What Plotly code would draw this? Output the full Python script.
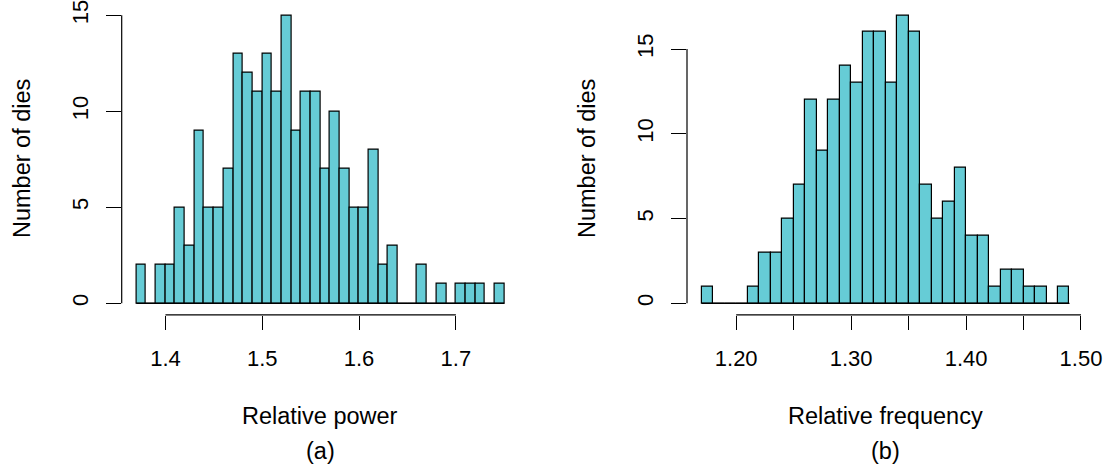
import numpy as np
import plotly.graph_objects as go

# ---------------- data ----------------
# Panel (a): Relative power, bins of width 0.01 starting at 1.37
power_bin_start = 1.37
power_bin_width = 0.01
power_counts = [2, 0, 2, 2, 5, 3, 9, 5, 5, 7, 13, 12, 11, 13, 11, 15, 9, 11, 11,
                7, 10, 7, 5, 5, 8, 2, 3, 0, 0, 2, 0, 1, 0, 1, 1, 1, 0, 1]
power_ticks = [1.4, 1.5, 1.6, 1.7]
power_tick_labels = ["1.4", "1.5", "1.6", "1.7"]

# Panel (b): Relative frequency, bins of width 0.01 starting at 1.17
freq_bin_start = 1.17
freq_bin_width = 0.01
freq_counts = [1, 0, 0, 0, 1, 3, 3, 5, 7, 12, 9, 12, 14, 13, 16, 16, 13, 17, 16,
               7, 5, 6, 8, 4, 4, 1, 2, 2, 1, 1, 0, 1]
freq_ticks = [1.20, 1.25, 1.30, 1.35, 1.40, 1.45, 1.50]
freq_tick_labels = ["1.20", "", "1.30", "", "1.40", "", "1.50"]

count_ticks_a = [0, 5, 10, 15]
count_ticks_b = [0, 5, 10, 15]

xlabel_a = "Relative power"
xlabel_b = "Relative frequency"
ylabel = "Number of dies"
panel_a = "(a)"
panel_b = "(b)"

# ---------------- styling ----------------
W, H = 1115, 467
BAR_FILL = "#66CCD6"
FONT = "Liberation Sans, Arial, Helvetica, sans-serif"
TICK_SIZE = 22
TITLE_SIZE = 23.5


def px_x(p):
    return p / W


def px_y(p):
    return 1 - p / H


fig = go.Figure()


def add_hist(start, width, counts, xa, ya):
    n = len(counts)
    lefts = np.round(start + width * np.arange(n), 6)
    centers = lefts + width / 2
    fig.add_trace(go.Bar(
        x=centers, y=counts, width=width,
        marker=dict(color=BAR_FILL, line=dict(color="black", width=1.2)),
        xaxis=xa, yaxis=ya, showlegend=False, hoverinfo="x+y",
    ))
    # zero-height bins appear as a baseline in the original
    fig.add_trace(go.Scatter(
        x=[lefts[0], lefts[-1] + width], y=[0, 0], mode="lines",
        line=dict(color="black", width=1.2),
        xaxis=xa, yaxis=ya, showlegend=False, hoverinfo="skip",
    ))
    return lefts[0], lefts[-1] + width


a_lo, a_hi = add_hist(power_bin_start, power_bin_width, power_counts, "x", "y")
b_lo, b_hi = add_hist(freq_bin_start, freq_bin_width, freq_counts, "x2", "y2")

pad_a = 0.04 * (a_hi - a_lo)
pad_b = 0.04 * (b_hi - b_lo)
ymax_a = max(power_counts)
ymax_b = max(freq_counts)

y_dom = [px_y(314.8), px_y(3.7)]

common_x = dict(
    showgrid=False, zeroline=False, showline=False,
    ticks="outside", ticklen=14, tickwidth=1, tickcolor="black",
    tickfont=dict(family=FONT, size=TICK_SIZE, color="black"),
    ticklabelstandoff=10, ticklabeloverflow="allow",
)
common_y = dict(
    showgrid=False, zeroline=False, showline=False,
    ticks="outside", ticklen=15, tickwidth=1, tickcolor="black",
    tickangle=-90,
    tickfont=dict(family=FONT, size=TICK_SIZE, color="black"),
    ticklabelstandoff=9, ticklabeloverflow="allow",
)

fig.update_layout(
    width=W, height=H,
    margin=dict(l=0, r=0, t=0, b=0, autoexpand=False),
    paper_bgcolor="white", plot_bgcolor="white",
    bargap=0,
    font=dict(family=FONT, color="black"),
    xaxis=dict(domain=[px_x(121.7), px_x(519)],
               range=[a_lo - pad_a, a_hi + pad_a],
               tickvals=power_ticks, ticktext=power_tick_labels,
               anchor="y", **common_x),
    yaxis=dict(domain=y_dom, range=[-0.04 * ymax_a, 1.04 * ymax_a],
               tickvals=count_ticks_a, anchor="x", **common_y),
    xaxis2=dict(domain=[px_x(687), px_x(1084.2)],
                range=[b_lo - pad_b, b_hi + pad_b],
                tickvals=freq_ticks, ticktext=freq_tick_labels,
                anchor="y2", **common_x),
    yaxis2=dict(domain=y_dom, range=[-0.04 * ymax_b, 1.04 * ymax_b],
                tickvals=count_ticks_b, anchor="x2", **common_y),
)

# R-style axis lines spanning from first to last tick
shapes = []
for xr, yr, ticks_x, ticks_y in [("x", "y", power_ticks, count_ticks_a),
                                 ("x2", "y2", freq_ticks, count_ticks_b)]:
    shapes.append(dict(type="line", xref=xr, yref=f"{yr} domain",
                       x0=ticks_x[0], x1=ticks_x[-1], y0=0, y1=0,
                       line=dict(color="black", width=1.2)))
    shapes.append(dict(type="line", xref=f"{xr} domain", yref=yr,
                       x0=0, x1=0, y0=ticks_y[0], y1=ticks_y[-1],
                       line=dict(color="black", width=1.2)))
fig.update_layout(shapes=shapes)

# axis titles and panel labels
ann = []
for cx, xl, pl, ycx in [((121.7 + 519) / 2, xlabel_a, panel_a, 22),
                        ((687 + 1084.2) / 2, xlabel_b, panel_b, 587)]:
    ann.append(dict(text=xl, x=px_x(cx), y=px_y(416), xref="paper", yref="paper",
                    xanchor="center", yanchor="middle", showarrow=False,
                    font=dict(family=FONT, size=TITLE_SIZE, color="black")))
    ann.append(dict(text=pl, x=px_x(cx), y=px_y(451), xref="paper", yref="paper",
                    xanchor="center", yanchor="middle", showarrow=False,
                    font=dict(family=FONT, size=TITLE_SIZE, color="black")))
    ann.append(dict(text=ylabel, x=px_x(ycx), y=px_y(159), xref="paper", yref="paper",
                    xanchor="center", yanchor="middle", showarrow=False, textangle=-90,
                    font=dict(family=FONT, size=TITLE_SIZE, color="black")))
fig.update_layout(annotations=ann)

fig.write_html(
    "out.html",
    config={"displayModeBar": False},
    post_script="document.body.style.margin='0';document.body.style.overflow='hidden';",
)
